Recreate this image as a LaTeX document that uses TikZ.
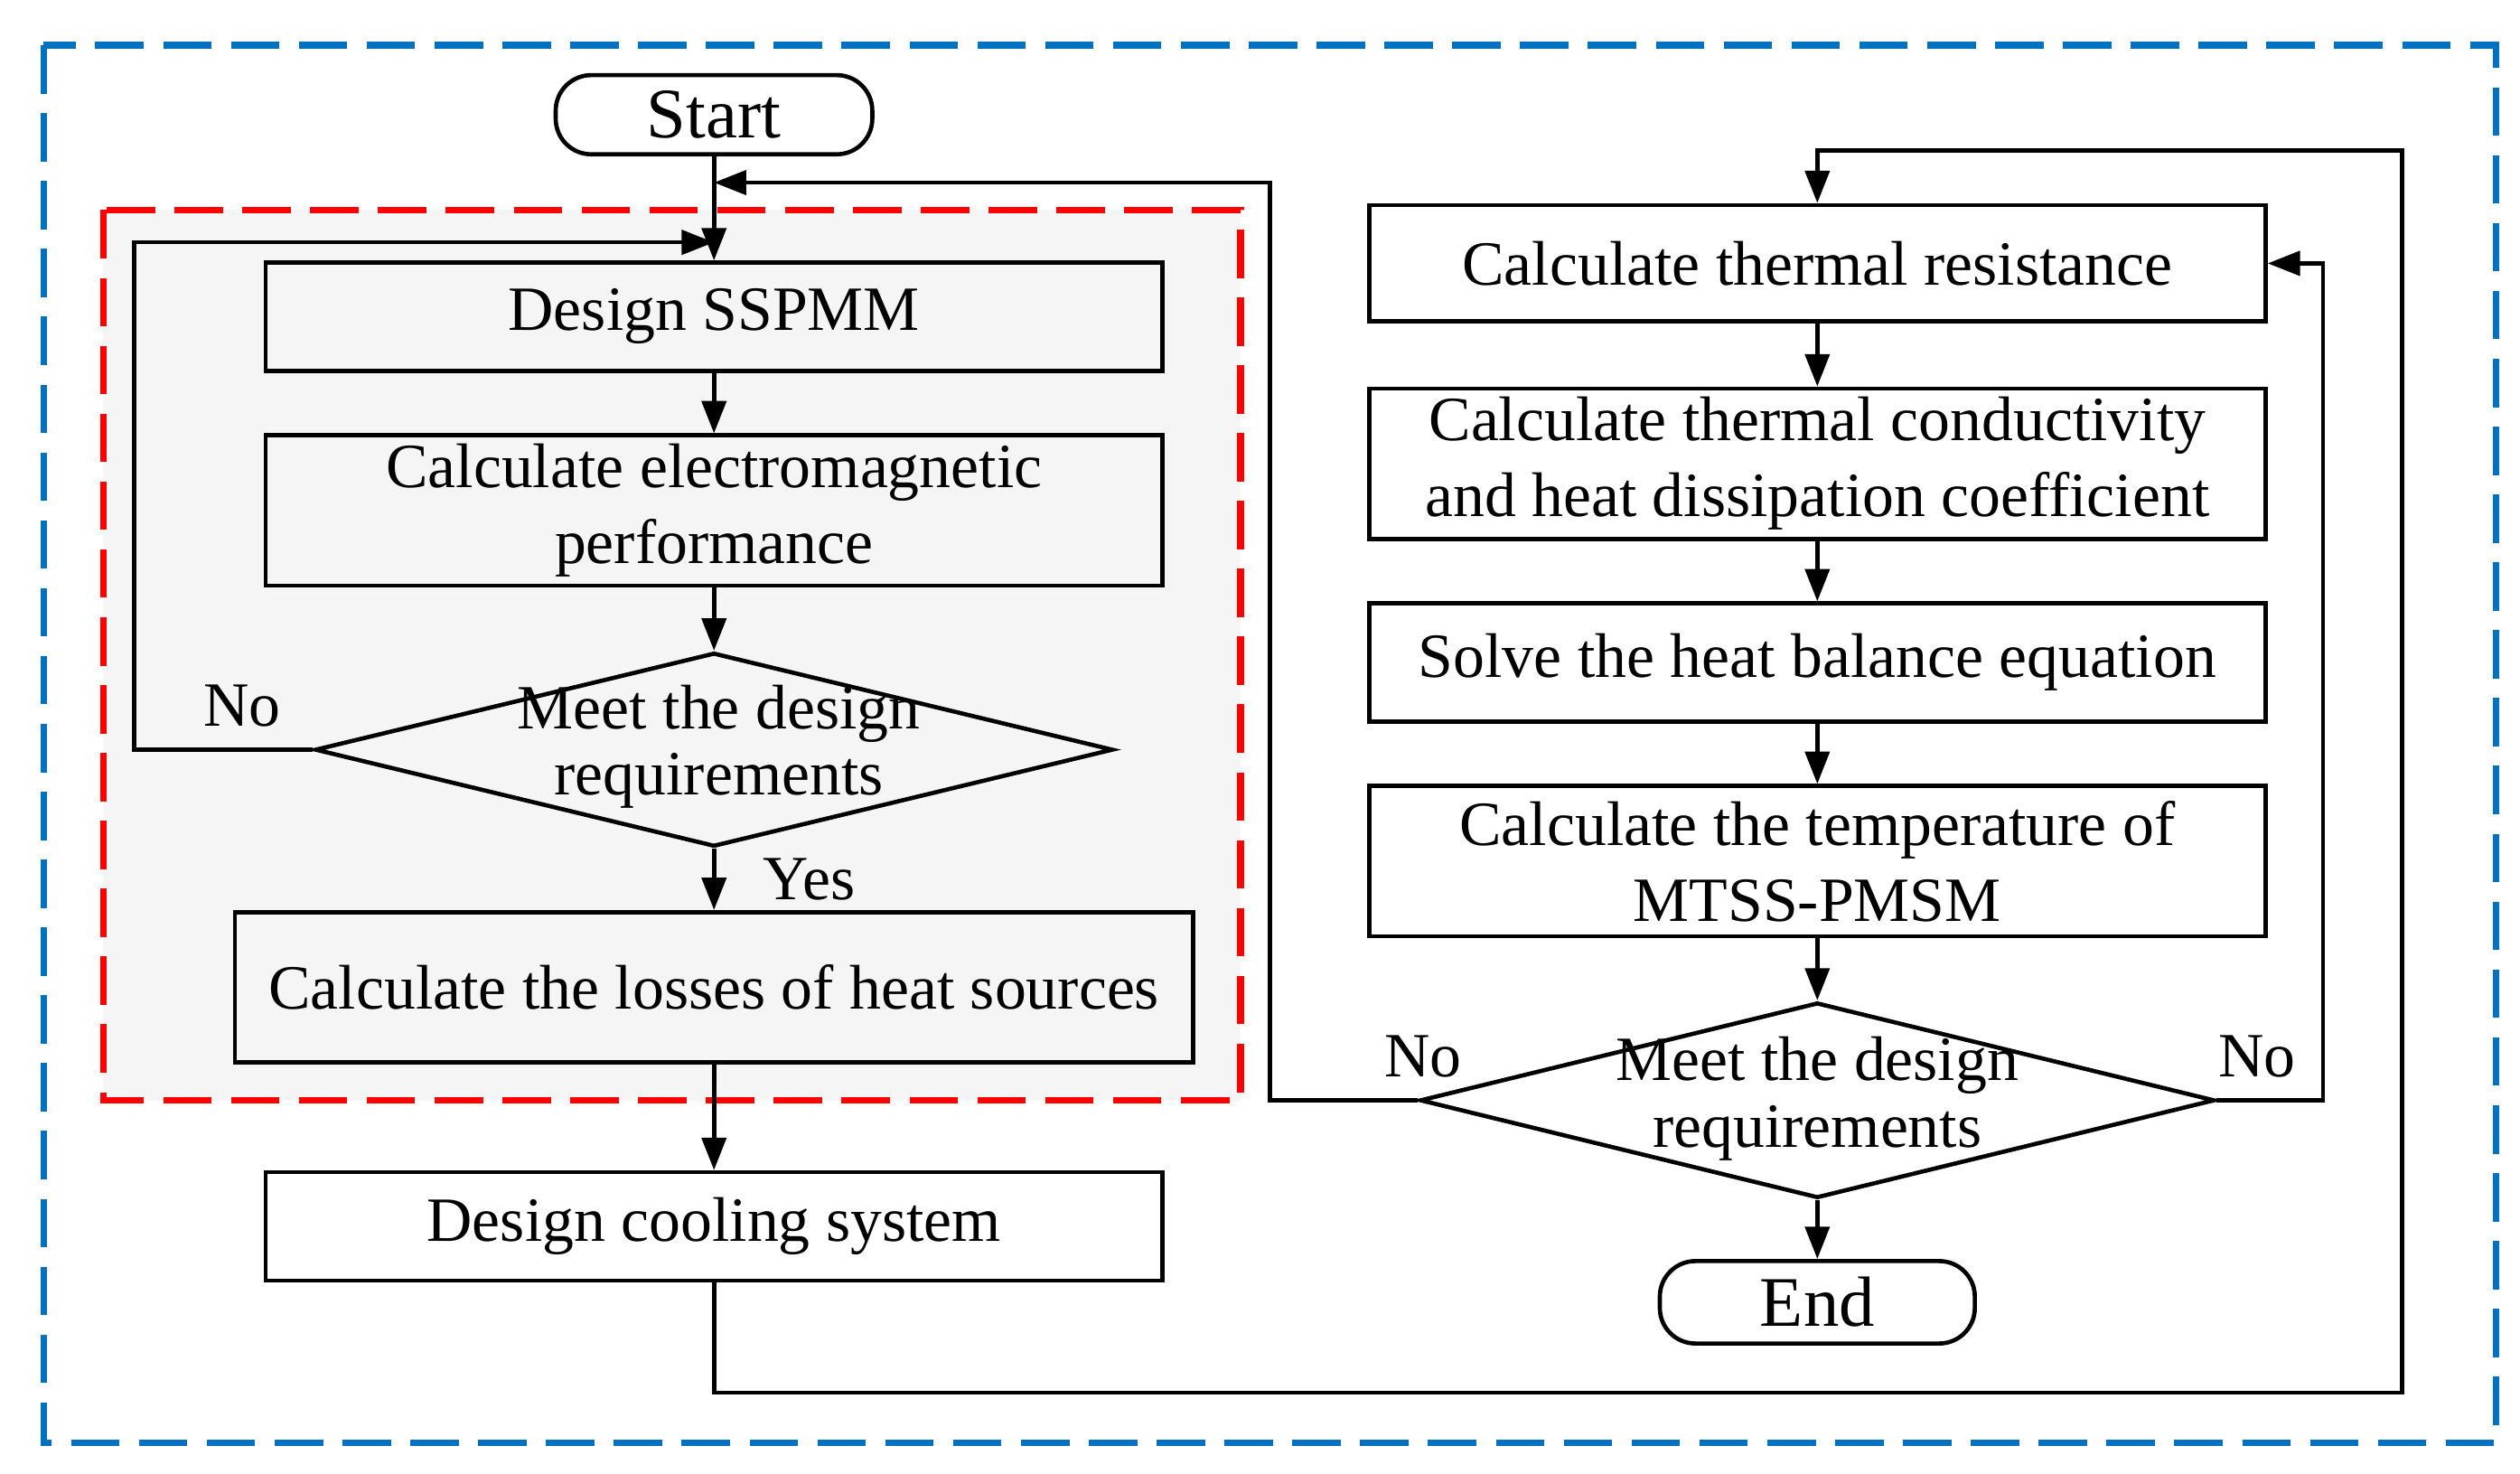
\documentclass[tikz,border=0pt]{standalone}
\usepackage{fontspec}
\setmainfont{Liberation Serif}
\usetikzlibrary{shapes.geometric,arrows.meta}
\definecolor{bdash}{RGB}{0,112,192}
\begin{document}
\begin{tikzpicture}[x=1pt,y=-1pt,line width=2.6pt,
  box/.style={draw,rectangle,inner sep=0pt,font=\fontsize{39}{47}\selectfont,align=center},
  dia/.style={draw,diamond,inner sep=0pt,align=center},
  arr/.style={-{Triangle[length=20pt,width=15pt]}},
  lab/.style={font=\fontsize{39}{41}\selectfont}]
\useasboundingbox (0,0) rectangle (1560,912);
\draw[bdash,line width=4pt,dash pattern=on 30pt off 12pt] (27,28) rectangle (1545,893);
\draw[red,fill={rgb,255:red,245;green,245;blue,245},line width=4pt,dash pattern=on 30pt off 12pt] (64,130) rectangle (768,681);
\node[box,rounded corners=22pt,minimum width=196pt,minimum height=49pt,font=\fontsize{44}{46}\selectfont] (start) at (442,71) {Start};
\node[box,minimum width=555pt,minimum height=67pt] (d1) at (442,196) {Design SSPMM};
\node[box,minimum width=555pt,minimum height=93pt] (em) at (442,316) {Calculate electromagnetic\\performance};
\node[dia,minimum width=494pt,minimum height=120pt,aspect=4.1] (q1) at (442,464) {};
\node[lab,align=center] at (445,462) {Meet the design\\requirements};
\node[box,minimum width=593pt,minimum height=93pt] (loss) at (442,611) {Calculate the losses of heat sources};
\node[box,minimum width=555pt,minimum height=67pt] (cool) at (442,759) {Design cooling system};
\node[box,minimum width=555pt,minimum height=72pt] (tr) at (1125,163) {Calculate thermal resistance};
\node[box,minimum width=555pt,minimum height=93pt] (tc) at (1125,287) {Calculate thermal conductivity\\and heat dissipation coefficient};
\node[box,minimum width=555pt,minimum height=73pt] (hb) at (1125,410) {Solve the heat balance equation};
\node[box,minimum width=555pt,minimum height=93pt] (tm) at (1125,533) {Calculate the temperature of\\MTSS-PMSM};
\node[dia,minimum width=492pt,minimum height=121pt,aspect=4.1] (q2) at (1125,681) {};
\node[lab,align=center] at (1125,680) {Meet the design\\requirements};
\node[box,rounded corners=22pt,minimum width=195pt,minimum height=51pt,font=\fontsize{44}{46}\selectfont] (end) at (1125,806) {End};
\coordinate (j1) at (442,150);
\coordinate (j2) at (442,113);
\draw[arr] (start) -- (d1);
\draw[arr] (d1) -- (em);
\draw[arr] (em) -- (q1);
\draw[arr] (q1) -- (loss);
\draw[arr] (loss) -- (cool);
\draw[arr] (q1.west) -- (83,464) -- (83,150) -- (j1);
\draw[arr] (q2.west) -- (786,681) -- (786,113) -- (j2);
\draw[arr] (cool.south) -- (442,862) -- (1487,862) -- (1487,93) -- (1125,93) -- (tr.north);
\draw[arr] (q2.east) -- (1438,681) -- (1438,163) -- (tr.east);
\draw[arr] (tr) -- (tc);
\draw[arr] (tc) -- (hb);
\draw[arr] (hb) -- (tm);
\draw[arr] (tm) -- (q2);
\draw[arr] (q2) -- (end);
\node[lab] at (150,437) {No};
\node[lab] at (501,544) {Yes};
\node[lab] at (881,654) {No};
\node[lab] at (1397,654) {No};
\end{tikzpicture}
\end{document}
